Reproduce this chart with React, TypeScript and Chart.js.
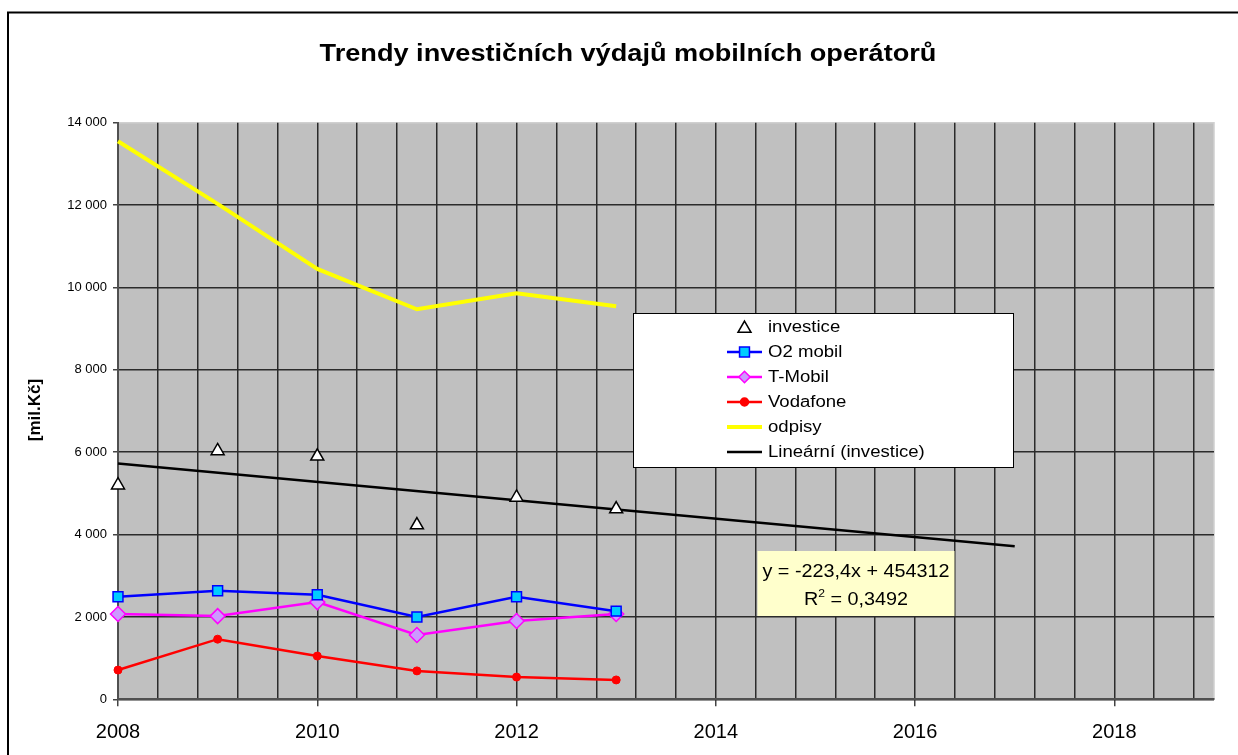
import React, { useEffect, useRef } from 'react';
import { Chart, registerables } from 'chart.js';

Chart.register(...registerables);

// ---------- data ----------
const TITLE = 'Trendy investičních výdajů mobilních operátorů';
const Y_TITLE = '[mil.Kč]';
const YEARS = [2008, 2009, 2010, 2011, 2012, 2013];
const INVESTICE = [5200, 6030, 5900, 4230, 4900, 4620];
const O2_MOBIL = [2490, 2635, 2540, 2000, 2490, 2140];
const T_MOBIL = [2070, 2020, 2360, 1560, 1900, 2070];
const VODAFONE = [710, 1460, 1050, 690, 540, 470];
const ODPISY = [13550, 12030, 10450, 9470, 9860, 9545];
const TREND_SLOPE = -223.4;
const TREND_INTERCEPT = 454312;
const TREND_RANGE = [2008, 2017];
const TREND_EQ = 'y = -223,4x + 454312';
const R2_VALUE = '0,3492';
const LEGEND_LABELS = ['investice', 'O2 mobil', 'T-Mobil', 'Vodafone', 'odpisy', 'Lineární (investice)'];
const X_MIN = 2008;
const X_MAX = 2019;
const X_MINOR = 0.4;
const X_MAJOR = 2;
const Y_MIN = 0;
const Y_MAX = 14000;
const Y_STEP = 2000;

const FONT = '"Liberation Sans", Arial, sans-serif';

type MarkerStyle = 'triangle' | 'rect' | 'rectRot' | 'circle' | 'none';

function drawMarker(
  ctx: CanvasRenderingContext2D,
  style: MarkerStyle,
  x: number,
  y: number,
  r: number,
  fill: string,
  stroke: string,
  lw: number
) {
  if (style === 'none') return;
  ctx.save();
  ctx.beginPath();
  if (style === 'triangle') {
    let rad = 0;
    const step = (2 * Math.PI) / 3;
    ctx.moveTo(x + Math.sin(rad) * r, y - Math.cos(rad) * r);
    rad += step;
    ctx.lineTo(x + Math.sin(rad) * r, y - Math.cos(rad) * r);
    rad += step;
    ctx.lineTo(x + Math.sin(rad) * r, y - Math.cos(rad) * r);
    ctx.closePath();
  } else if (style === 'rect') {
    const s = r * Math.SQRT1_2;
    ctx.rect(x - s, y - s, 2 * s, 2 * s);
  } else if (style === 'rectRot') {
    const s = r * Math.SQRT1_2;
    ctx.moveTo(x - s, y);
    ctx.lineTo(x, y + s);
    ctx.lineTo(x + s, y);
    ctx.lineTo(x, y - s);
    ctx.closePath();
  } else {
    ctx.arc(x, y, r, 0, Math.PI * 2);
  }
  ctx.fillStyle = fill;
  ctx.fill();
  ctx.lineWidth = lw;
  ctx.strokeStyle = stroke;
  ctx.stroke();
  ctx.restore();
}

// draws text stretched horizontally by sx
function stretchText(
  ctx: CanvasRenderingContext2D,
  text: string,
  x: number,
  y: number,
  sx: number,
  align: CanvasTextAlign
) {
  ctx.save();
  ctx.translate(x, y);
  ctx.scale(sx, 1);
  ctx.textAlign = align;
  ctx.fillText(text, 0, 0);
  ctx.restore();
}

interface LegendSpec {
  line: string | null;
  lineWidth: number;
  marker: MarkerStyle;
  r: number;
  fill: string;
  stroke: string;
}

const LEGEND_SPECS: LegendSpec[] = [
  { line: null, lineWidth: 0, marker: 'triangle', r: 7.5, fill: '#ffffff', stroke: '#000000' },
  { line: '#0000FF', lineWidth: 2.5, marker: 'rect', r: 7, fill: '#00CCFF', stroke: '#0000FF' },
  { line: '#FF00FF', lineWidth: 2.5, marker: 'rectRot', r: 8, fill: '#CC99FF', stroke: '#FF00FF' },
  { line: '#FF0000', lineWidth: 2.5, marker: 'circle', r: 4, fill: '#FF0000', stroke: '#FF0000' },
  { line: '#FFFF00', lineWidth: 4, marker: 'none', r: 0, fill: '', stroke: '' },
  { line: '#000000', lineWidth: 2.5, marker: 'none', r: 0, fill: '', stroke: '' },
];

function fmtThousands(v: number): string {
  return String(Math.round(v)).replace(/\B(?=(\d{3})+(?!\d))/g, ' ');
}

export default function App() {
  const ref = useRef<HTMLCanvasElement>(null);

  useEffect(() => {
    const canvas = ref.current;
    if (!canvas) return;

    const pts = (arr: number[]) => YEARS.map((x, i) => ({ x, y: arr[i] }));
    const trend = TREND_RANGE.map((x) => ({ x, y: TREND_SLOPE * x + TREND_INTERCEPT }));

    const isMajor = (v: number | undefined) => {
      if (v === undefined) return false;
      const r = Math.round(v);
      return Math.abs(v - r) < 1e-6 && (r - X_MIN) % X_MAJOR === 0;
    };

    const xGrid: number[] = [];
    for (let k = 0; X_MIN + k * X_MINOR < X_MAX - 1e-9; k++) {
      xGrid.push(Math.round((X_MIN + k * X_MINOR) * 1e6) / 1e6);
    }

    const deco = {
      id: 'deco',
      beforeDraw(chart: any) {
        const { ctx, chartArea: a } = chart;
        ctx.save();
        ctx.fillStyle = '#ffffff';
        ctx.fillRect(0, 0, chart.width, chart.height);
        // outer frame
        ctx.strokeStyle = '#000000';
        ctx.lineWidth = 2;
        ctx.beginPath();
        ctx.moveTo(8, chart.height + 10);
        ctx.lineTo(8, 12.5);
        ctx.lineTo(chart.width + 10, 12.5);
        ctx.stroke();
        // plot background
        ctx.fillStyle = '#C0C0C0';
        ctx.fillRect(a.left, a.top, a.right - a.left, a.bottom - a.top);
        ctx.strokeStyle = '#D0D0D0';
        ctx.lineWidth = 1.5;
        ctx.beginPath();
        ctx.moveTo(a.left, a.top);
        ctx.lineTo(a.right, a.top);
        ctx.lineTo(a.right, a.bottom);
        ctx.stroke();
        ctx.restore();
      },
      afterDraw(chart: any) {
        const { ctx } = chart;
        ctx.save();
        // title
        ctx.fillStyle = '#000000';
        ctx.font = `bold 23px ${FONT}`;
        ctx.textBaseline = 'alphabetic';
        stretchText(ctx, TITLE, 628, 61, 1.18, 'center');

        // y-axis title
        ctx.save();
        ctx.translate(35, 410);
        ctx.rotate(-Math.PI / 2);
        ctx.font = `bold 17px ${FONT}`;
        ctx.textAlign = 'center';
        ctx.textBaseline = 'middle';
        ctx.fillText(Y_TITLE, 0, 0);
        ctx.restore();

        // legend
        const lx = 633;
        const ly = 313.5;
        const lw = 380;
        const lh = 154;
        ctx.fillStyle = '#ffffff';
        ctx.fillRect(lx, ly, lw, lh);
        ctx.strokeStyle = '#000000';
        ctx.lineWidth = 1;
        ctx.strokeRect(lx + 0.5, ly, lw, lh);
        ctx.font = `16px ${FONT}`;
        ctx.textBaseline = 'middle';
        LEGEND_LABELS.forEach((label, i) => {
          const spec = LEGEND_SPECS[i];
          const y = 327 + i * 25;
          if (spec.line) {
            ctx.strokeStyle = spec.line;
            ctx.lineWidth = spec.lineWidth;
            ctx.beginPath();
            ctx.moveTo(727, y);
            ctx.lineTo(762, y);
            ctx.stroke();
          }
          drawMarker(ctx, spec.marker, 744.5, spec.marker === 'triangle' ? y + 1.5 : y, spec.r, spec.fill, spec.stroke, 1.5);
          ctx.fillStyle = '#000000';
          stretchText(ctx, label, 768, y + 1, 1.16, 'left');
        });

        // trendline equation box
        const bx = 757.5;
        const by = 551;
        const bw = 197;
        const bh = 65;
        const SX = 1.1;
        ctx.fillStyle = '#FFFFCC';
        ctx.fillRect(bx, by, bw, bh);
        ctx.fillStyle = '#000000';
        ctx.font = `18px ${FONT}`;
        ctx.textBaseline = 'alphabetic';
        const cx = bx + bw / 2;
        stretchText(ctx, TREND_EQ, cx, 577, SX, 'center');
        const partR = 'R';
        const partRest = ' = ' + R2_VALUE;
        ctx.font = `18px ${FONT}`;
        const wR = ctx.measureText(partR).width * SX;
        const wRest = ctx.measureText(partRest).width * SX;
        ctx.font = `11px ${FONT}`;
        const wSup = ctx.measureText('2').width * SX;
        const total = wR + wSup + wRest;
        let sx = cx - total / 2;
        ctx.font = `18px ${FONT}`;
        stretchText(ctx, partR, sx, 605, SX, 'left');
        sx += wR;
        ctx.font = `11px ${FONT}`;
        stretchText(ctx, '2', sx, 597, SX, 'left');
        sx += wSup;
        ctx.font = `18px ${FONT}`;
        stretchText(ctx, partRest, sx, 605, SX, 'left');
        ctx.restore();
      },
    };

    const gridColor = '#2b2b2b';

    const chart = new Chart(canvas, {
      type: 'line',
      data: {
        datasets: [
          {
            label: LEGEND_LABELS[0],
            data: pts(INVESTICE),
            showLine: false,
            pointStyle: 'triangle',
            pointRadius: 7.5,
            pointBackgroundColor: '#ffffff',
            pointBorderColor: '#000000',
            pointBorderWidth: 1.5,
            borderColor: '#000000',
            clip: false,
          },
          {
            label: LEGEND_LABELS[1],
            data: pts(O2_MOBIL),
            borderColor: '#0000FF',
            borderWidth: 2.5,
            pointStyle: 'rect',
            pointRadius: 7,
            pointBackgroundColor: '#00CCFF',
            pointBorderColor: '#0000FF',
            pointBorderWidth: 1.5,
            clip: false,
          },
          {
            label: LEGEND_LABELS[2],
            data: pts(T_MOBIL),
            borderColor: '#FF00FF',
            borderWidth: 2.5,
            pointStyle: 'rectRot',
            pointRadius: 7.5,
            pointBackgroundColor: '#CC99FF',
            pointBorderColor: '#FF00FF',
            pointBorderWidth: 1.5,
            clip: false,
          },
          {
            label: LEGEND_LABELS[3],
            data: pts(VODAFONE),
            borderColor: '#FF0000',
            borderWidth: 2.5,
            pointStyle: 'circle',
            pointRadius: 4,
            pointBackgroundColor: '#FF0000',
            pointBorderColor: '#FF0000',
            pointBorderWidth: 1,
            clip: false,
          },
          {
            label: LEGEND_LABELS[4],
            data: pts(ODPISY),
            borderColor: '#FFFF00',
            borderWidth: 4,
            pointRadius: 0,
            clip: false,
          },
          {
            label: LEGEND_LABELS[5],
            data: trend,
            borderColor: '#000000',
            borderWidth: 2.5,
            pointRadius: 0,
            clip: false,
          },
        ],
      },
      options: {
        animation: false,
        responsive: false,
        events: [],
        layout: { padding: { top: 122.7, right: 24, left: 0, bottom: 0 } },
        plugins: {
          legend: { display: false },
          title: { display: false },
          tooltip: { enabled: false },
        },
        elements: { line: { tension: 0 } },
        scales: {
          x: {
            type: 'linear',
            min: X_MIN,
            max: X_MAX,
            afterBuildTicks: (scale: any) => {
              scale.ticks = xGrid.map((v) => ({ value: v }));
            },
            afterFit: (scale: any) => {
              scale.height = 55.7;
            },
            ticks: {
              autoSkip: false,
              maxRotation: 0,
              minRotation: 0,
              padding: 14,
              color: '#000000',
              font: { family: FONT, size: 20 },
              callback: (v: any) => (isMajor(Number(v)) ? String(Math.round(Number(v))) : ''),
            },
            grid: {
              color: gridColor,
              lineWidth: 1.5,
              drawTicks: true,
              tickLength: 7,
              tickWidth: 1.5,
              tickColor: (ctx: any) => (ctx.tick && isMajor(ctx.tick.value) ? '#444444' : 'rgba(0,0,0,0)'),
            },
            border: { display: true, color: '#505050', width: 2 },
          },
          y: {
            type: 'linear',
            min: Y_MIN,
            max: Y_MAX,
            afterFit: (scale: any) => {
              scale.width = 118;
            },
            ticks: {
              stepSize: Y_STEP,
              padding: 6,
              color: '#000000',
              font: { family: FONT, size: 13 },
              callback: (v: any) => fmtThousands(Number(v)),
            },
            grid: {
              color: (ctx: any) => (ctx.tick && ctx.tick.value === Y_MAX ? 'rgba(0,0,0,0)' : gridColor),
              lineWidth: 1.5,
              drawTicks: true,
              tickLength: 5,
              tickWidth: 1.5,
              tickColor: '#444444',
            },
            border: { display: true, color: '#505050', width: 2 },
          },
        },
      } as any,
      plugins: [deco],
    });

    return () => {
      chart.destroy();
    };
  }, []);

  return (
    <div style={{ position: 'absolute', left: 0, top: 0, width: 1238, height: 755, background: '#ffffff' }}>
      <canvas ref={ref} width={1238} height={755} style={{ display: 'block', width: 1238, height: 755 }} />
    </div>
  );
}
